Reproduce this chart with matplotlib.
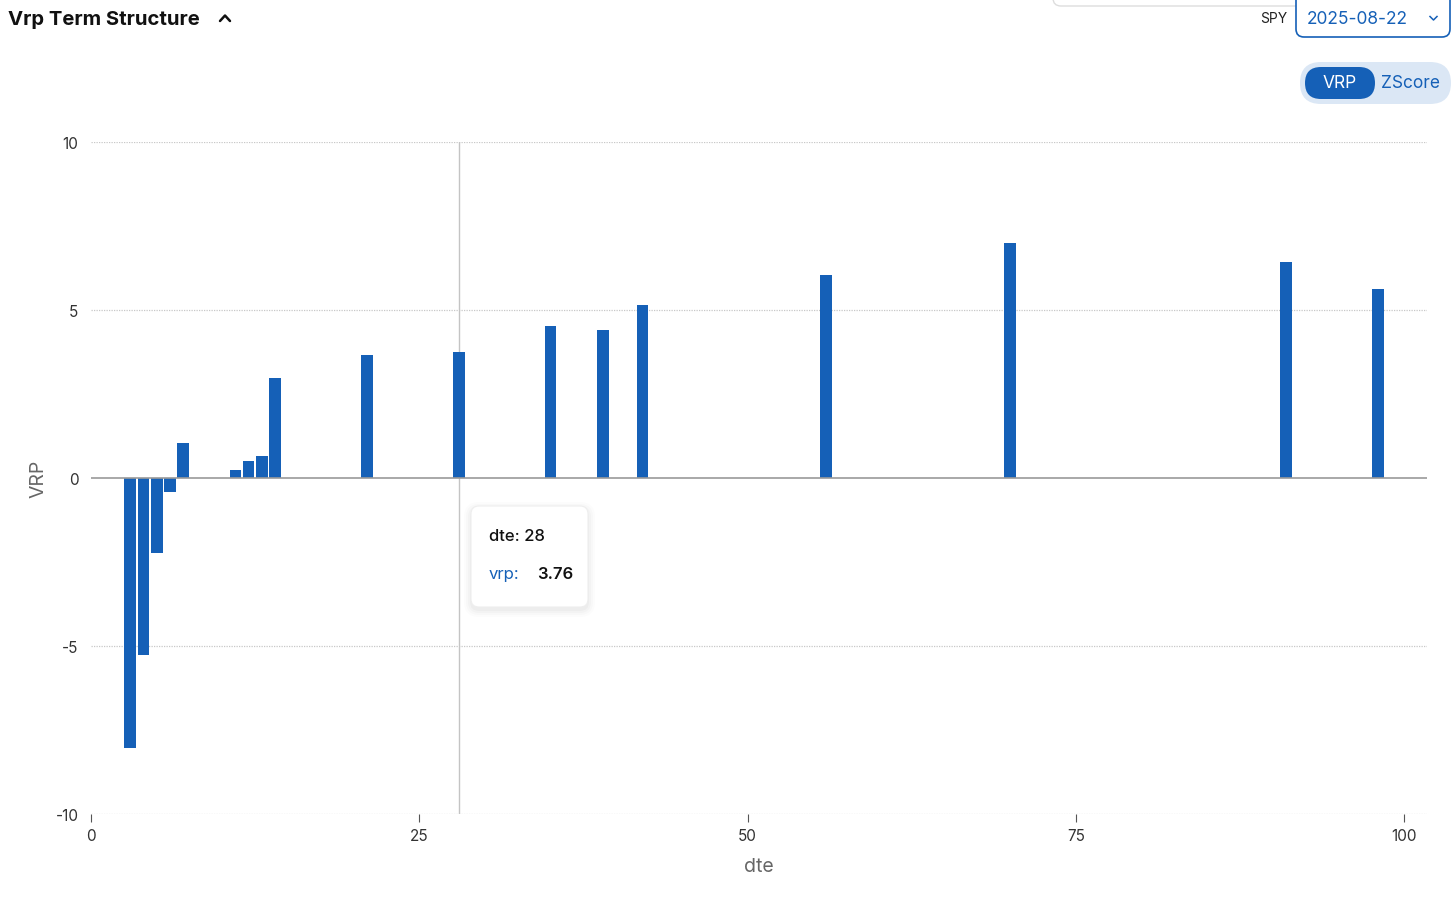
import matplotlib
matplotlib.use("Agg")
import matplotlib.pyplot as plt
from matplotlib.patches import FancyBboxPatch

plt.rcParams['font.family'] = ['Inter', 'DejaVu Sans']

# data
dte = [3, 4, 5, 6, 7, 11, 12, 13, 14, 21, 28, 35, 39, 42, 56, 70, 91, 98]
vrp = [-8.03, -5.28, -2.24, -0.42, 1.03, 0.23, 0.50, 0.65, 2.97,
       3.66, 3.76, 4.52, 4.40, 5.15, 6.04, 6.99, 6.43, 5.63]
yticks = [-10, -5, 0, 5, 10]
xticks = [0, 25, 50, 75, 100]
hover_dte = 28
hover_vrp = 3.76

W, H = 1456, 904
BLUE = '#1560b7'

fig = plt.figure(figsize=(W / 100, H / 100), dpi=100)

# main chart, placed in pixel terms
L, R, T, B = 91, 1427, 143, 815
ax = fig.add_axes([L / W, 1 - B / H, (R - L) / W, (B - T) / H])
ax.bar(dte, vrp, width=0.9, color=BLUE, zorder=3)
ax.set_xlim(0, 101.75)
ax.set_ylim(-10, 10)
for s in ['top', 'right', 'left', 'bottom']:
    ax.spines[s].set_visible(False)
for yv in yticks:
    if yv == 0:
        ax.axhline(0, color='#9a9a9a', lw=1.2, zorder=4)
    else:
        ax.axhline(yv, color='#c8c8c8', lw=0.9, ls=(0, (1, 1)), zorder=1)
ax.axvline(hover_dte, color='#c4c4c4', lw=1, zorder=2)
ax.set_yticks(yticks)
ax.set_yticklabels([str(v) for v in yticks], fontsize=11, color='#333333')
ax.set_xticks(xticks)
ax.set_xticklabels([str(v) for v in xticks], fontsize=11, color='#333333')
ax.tick_params(axis='y', length=0, pad=9)
ax.tick_params(axis='x', length=6, width=0.8, color='#555555', pad=4, direction='out')
ax.set_xlabel('dte', fontsize=14, color='#666666')
ax.set_ylabel('VRP', fontsize=14, color='#666666')
ax.xaxis.set_label_coords((759 - L) / (R - L), -(867 - B) / (B - T) - 0.0)
ax.yaxis.set_label_coords(-(L - 38) / (R - L), 0.5)
ax.xaxis.label.set_va('center')
ax.yaxis.label.set_va('center')

# overlay in pixel coordinates for the page widgets
ui = fig.add_axes([0, 0, 1, 1], zorder=10)
ui.set_xlim(0, W)
ui.set_ylim(H, 0)
ui.axis('off')
ui.patch.set_alpha(0)

def box(x0, y0, x1, y1, r, **kw):
    ui.add_patch(FancyBboxPatch((x0, y0), x1 - x0, y1 - y0,
                                boxstyle=f'round,pad=0,rounding_size={r}', **kw))

# header
ui.text(8, 20, 'Vrp Term Structure', fontsize=14.6, fontweight='bold',
        color='#111111', va='center', ha='left')
ui.plot([220, 225, 230], [22, 16.5, 22], color='#111111', lw=1.8,
        solid_capstyle='round', solid_joinstyle='round')

# partially visible box at the top
box(1053, -20, 1375, 7, 8, fc='white', ec='#dddddd', lw=1)

ui.text(1287, 19, 'SPY', fontsize=10, color='#222222', va='center', ha='right')
box(1296, -10, 1450, 38, 8, fc='white', ec=BLUE, lw=1.2)
ui.text(1307, 19, '2025-08-22', fontsize=12.5, color=BLUE, va='center', ha='left')
ui.plot([1430, 1433.5, 1437], [17.5, 21, 17.5], color=BLUE, lw=1.1)

# toggle VRP / ZScore
box(1300, 63, 1451, 105, 21, fc='#dbe7f5', ec='none')
box(1305, 68, 1375, 100, 16, fc=BLUE, ec='none')
ui.text(1340, 84, 'VRP', fontsize=12.5, color='white', va='center', ha='center')
ui.text(1411, 84, 'ZScore', fontsize=12.5, color=BLUE, va='center', ha='center')

# tooltip with soft shadow
for i, a in enumerate([0.025, 0.02, 0.015, 0.01]):
    off = 1 + i * 2
    box(471 - off, 507 - off + 3, 588 + off, 608 + off + 3, 8 + off,
        fc='black', ec='none', alpha=a)
box(471, 507, 588, 608, 8, fc='white', ec='#eeeeee', lw=0.8)
ui.text(489, 537, f'dte: {hover_dte}', fontsize=12, color='#111111',
        va='center', ha='left', fontweight='medium')
ui.text(489, 575, 'vrp:', fontsize=12, color=BLUE, va='center', ha='left')
ui.text(537, 575, f'{hover_vrp:.2f}', fontsize=12, color='#111111',
        va='center', ha='left', fontweight='semibold')

fig.savefig('out.png', dpi=100)
